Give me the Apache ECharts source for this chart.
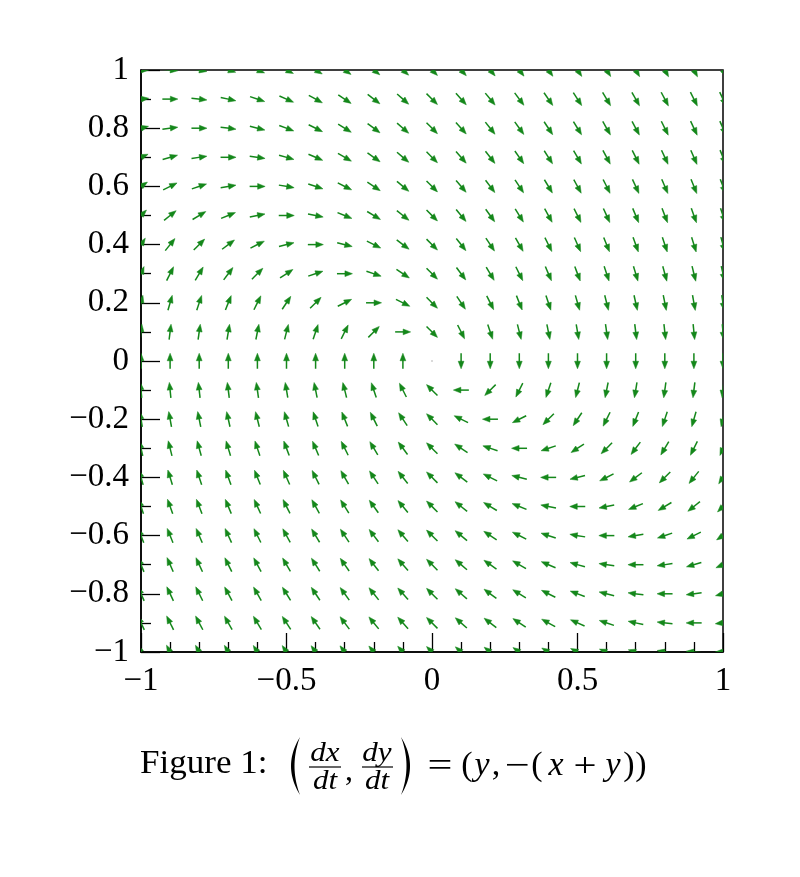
<!DOCTYPE html>
<html>
<head>
<meta charset="utf-8">
<script src="https://cdn.jsdelivr.net/npm/echarts@6/dist/echarts.min.js"></script>
<style>html,body{margin:0;padding:0;background:#fff;}#chart{width:800px;height:877px;}</style>
</head>
<body>
<div id="chart"></div>
<script>
// Grid of sample points (data coordinates)
const xs = [-1, -0.9, -0.8, -0.7, -0.6, -0.5, -0.4, -0.3, -0.2, -0.1, 0, 0.1, 0.2, 0.3, 0.4, 0.5, 0.6, 0.7, 0.8, 0.9, 1];
const ys = [-1, -0.9, -0.8, -0.7, -0.6, -0.5, -0.4, -0.3, -0.2, -0.1, 0, 0.1, 0.2, 0.3, 0.4, 0.5, 0.6, 0.7, 0.8, 0.9, 1];
// Vector field given in the figure caption: (dx/dt, dy/dt) = (y, -(x + y))
function fieldDx(x, y) { return y; }
function fieldDy(x, y) { return -(x + y); }

const arrowData = [];
for (const y of ys) {
  for (const x of xs) {
    arrowData.push([x, y, fieldDx(x, y), fieldDy(x, y)]);
  }
}

function fmt(v) {
  const r = Math.round(v * 10) / 10;
  if (r === 0) return '0';
  return String(r).replace('-', '\u2212');
}

const GREEN = '#14871a';
const chart = echarts.init(document.getElementById('chart'), null, {renderer: 'canvas'});

function renderArrow(params, api) {
  const x = api.value(0), y = api.value(1), u = api.value(2), v = api.value(3);
  const c = api.coord([x, y]);
  if (u === 0 && v === 0) {
    return {type: 'circle', shape: {cx: c[0], cy: c[1], r: 0.8}, style: {fill: '#aaaaaa'}};
  }
  const s = 0.01;
  const p = api.coord([x + u * s, y + v * s]);
  let dx = p[0] - c[0], dy = p[1] - c[1];
  const len = Math.sqrt(dx * dx + dy * dy);
  dx /= len; dy /= len;
  const L = 15.5, H = 7.5, W = 2.9;
  const tail = [c[0] - dx * L / 2, c[1] - dy * L / 2];
  const tip = [c[0] + dx * L / 2, c[1] + dy * L / 2];
  const base = [tip[0] - dx * H, tip[1] - dy * H];
  const nx = -dy, ny = dx;
  return {
    type: 'group',
    children: [
      {type: 'line', shape: {x1: tail[0], y1: tail[1], x2: base[0] + dx, y2: base[1] + dy},
        style: {stroke: GREEN, lineWidth: 1.5}},
      {type: 'polygon', shape: {points: [tip, [base[0] + nx * W, base[1] + ny * W], [base[0] - nx * W, base[1] - ny * W]]},
        style: {fill: GREEN, stroke: GREEN, lineWidth: 0.5}}
    ]
  };
}

function crescent(x0, yTop, yBot, cOuter, cInner) {
  const pts = [];
  const ym = (yTop + yBot) / 2;
  const N = 24;
  for (let i = 0; i <= N; i++) {
    const t = i / N;
    const px = (1 - t) * (1 - t) * x0 + 2 * (1 - t) * t * cOuter + t * t * x0;
    const py = (1 - t) * (1 - t) * yTop + 2 * (1 - t) * t * ym + t * t * yBot;
    pts.push([px, py]);
  }
  for (let i = N; i >= 0; i--) {
    const t = i / N;
    const px = (1 - t) * (1 - t) * x0 + 2 * (1 - t) * t * cInner + t * t * x0;
    const py = (1 - t) * (1 - t) * yTop + 2 * (1 - t) * t * ym + t * t * yBot;
    pts.push([px, py]);
  }
  return pts;
}

const labelFont = {fontFamily: 'Liberation Serif', fontSize: 33, color: '#000'};

const graphics = [];
(function () {
  const ser = 'Liberation Serif';
  function t(text, x, y, size, italic, align, sx) {
    graphics.push({type: 'text', x: x, y: y, scaleX: sx || 1, style: {text: text, x: 0, y: 0, fontFamily: ser, fontSize: size,
      fontStyle: italic ? 'italic' : 'normal', fill: '#000', align: align || 'center', verticalAlign: 'middle'}});
  }
  t('Figure 1:', 140, 764, 34, false, 'left', 1.03);
  graphics.push({type: 'polygon', shape: {points: crescent(300, 737, 795, 282, 289)}, style: {fill: '#000'}});
  graphics.push({type: 'polygon', shape: {points: crescent(401, 737, 795, 419, 412)}, style: {fill: '#000'}});
  t('dx', 325, 754, 27, true, 'center', 1.15);
  graphics.push({type: 'line', shape: {x1: 309, y1: 767, x2: 341, y2: 767}, style: {stroke: '#000', lineWidth: 1.2}});
  t('dt', 325, 782, 27, true, 'center', 1.15);
  t(',', 349, 772, 32, false);
  t('dy', 377, 754, 27, true, 'center', 1.15);
  graphics.push({type: 'line', shape: {x1: 362, y1: 767, x2: 393, y2: 767}, style: {stroke: '#000', lineWidth: 1.2}});
  t('dt', 377, 782, 27, true, 'center', 1.15);
  t('=', 440, 767, 34, false, 'center', 1.3);
  t('(', 467, 766, 34, false);
  t('y', 482, 766, 34, true);
  t(',', 496, 766, 34, false);
  t('\u2212', 517, 767, 34, false, 'center', 1.3);
  t('(', 537, 766, 34, false);
  t('x', 556, 766, 34, true);
  t('+', 585, 767, 34, false, 'center', 1.2);
  t('y', 613, 766, 34, true);
  t(')', 629, 766, 34, false);
  t(')', 641, 766, 34, false);
})();

const option = {
  animation: false,
  backgroundColor: '#fff',
  grid: {left: 141, top: 70, width: 582, height: 582, show: true, borderColor: '#000', borderWidth: 1.5, backgroundColor: 'transparent'},
  xAxis: {
    type: 'value', min: -1, max: 1, interval: 0.5,
    axisLine: {show: true, onZero: false, lineStyle: {color: '#000', width: 1.5}},
    axisTick: {show: true, inside: true, length: 19, lineStyle: {color: '#000', width: 1.3}},
    minorTick: {show: true, splitNumber: 5, length: 10, lineStyle: {color: '#000', width: 1.3}},
    splitLine: {show: false},
    axisLabel: Object.assign({margin: 13, formatter: fmt, showMinLabel: true, showMaxLabel: true}, labelFont)
  },
  yAxis: {
    type: 'value', min: -1, max: 1, interval: 0.2,
    axisLine: {show: true, onZero: false, lineStyle: {color: '#000', width: 1.5}},
    axisTick: {show: true, inside: true, length: 19, lineStyle: {color: '#000', width: 1.3}},
    minorTick: {show: true, splitNumber: 2, length: 10, lineStyle: {color: '#000', width: 1.3}},
    splitLine: {show: false},
    axisLabel: Object.assign({margin: 12, formatter: fmt, showMinLabel: true, showMaxLabel: true}, labelFont)
  },
  series: [{
    type: 'custom',
    clip: true,
    renderItem: renderArrow,
    data: arrowData,
    z: 1
  }],
  graphic: graphics
};
chart.setOption(option);
</script>
</body>
</html>
